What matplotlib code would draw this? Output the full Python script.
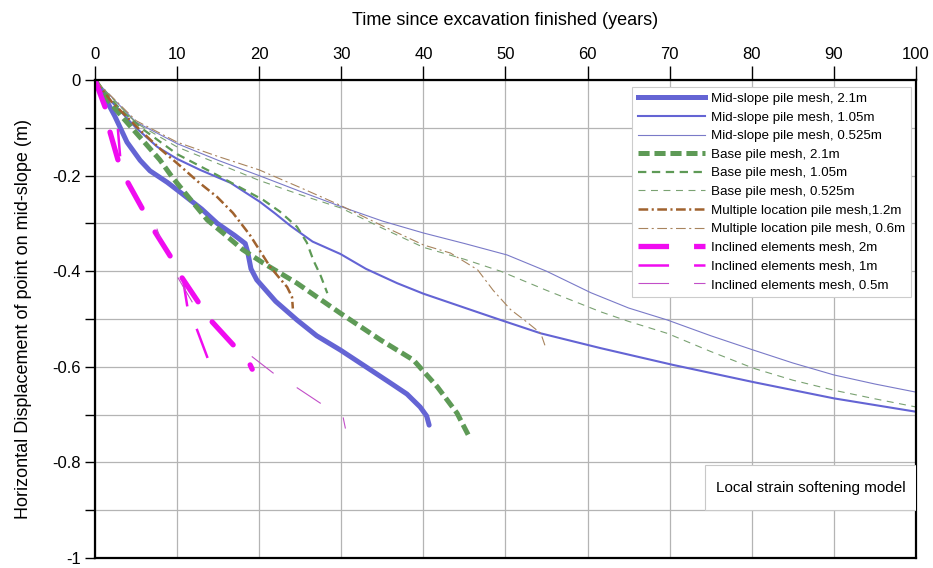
import numpy as np
import matplotlib
matplotlib.use("Agg")
import matplotlib.pyplot as plt
from matplotlib.lines import Line2D
from matplotlib.patches import Rectangle

plt.rcParams['font.family'] = ['Liberation Sans', 'DejaVu Sans']
plt.rcParams['axes.unicode_minus'] = False
plt.rcParams['lines.scale_dashes'] = False
plt.rcParams['lines.solid_joinstyle'] = 'round'
plt.rcParams['lines.dash_joinstyle'] = 'round'

nan = np.nan

# ---- data (time in years, displacement in m) ----
mid21_t = [0, 1, 2.4, 3.9, 5.5, 6.7, 8.8, 10.4, 13, 14.9, 17, 18.3, 18.6, 19, 19.7,
           22, 24.6, 27, 29.9, 33, 36, 38, 39.6, 40.4, 40.7]
mid21_y = [0, -0.03, -0.075, -0.13, -0.168, -0.19, -0.214, -0.235, -0.27, -0.30, -0.325,
           -0.342, -0.36, -0.395, -0.418, -0.463, -0.502, -0.535, -0.565, -0.60, -0.634,
           -0.657, -0.684, -0.703, -0.722]

mid105_t = [0, 2, 5, 7.6, 10, 12.8, 16.5, 20.1, 22, 23.8, 26.5, 29.9, 33, 36.8, 40, 47,
            49.4, 54.3, 61.6, 70.4, 80.2, 90, 100]
mid105_y = [0, -0.045, -0.1, -0.14, -0.165, -0.188, -0.215, -0.255, -0.28, -0.305, -0.338,
            -0.364, -0.395, -0.425, -0.447, -0.488, -0.502, -0.53, -0.561, -0.596, -0.632,
            -0.666, -0.694]

mid0525_t = [0, 5, 10, 15, 20, 25, 30, 35, 40, 45, 50.2, 55, 60.4, 65, 69.7, 75, 80.2,
             85, 90, 95, 100]
mid0525_y = [0, -0.088, -0.133, -0.168, -0.2, -0.233, -0.265, -0.295, -0.32, -0.342,
             -0.366, -0.4, -0.445, -0.477, -0.502, -0.535, -0.565, -0.592, -0.617,
             -0.636, -0.653]

base21_t = [0, 1.5, 3.3, 5.5, 7.9, 9.4, 11.2, 13.7, 15.6, 18, 20.5, 24.6, 29.9, 34.8,
            38.8, 41.7, 44.1, 45.6]
base21_y = [0, -0.04, -0.077, -0.12, -0.167, -0.203, -0.241, -0.293, -0.32, -0.355,
            -0.383, -0.425, -0.488, -0.544, -0.586, -0.642, -0.697, -0.747]

base105_t = [0, 3, 6, 10, 15, 20.5, 22.5, 24.6, 25.8, 26.6, 27.5, 28.3]
base105_y = [0, -0.06, -0.105, -0.155, -0.2, -0.251, -0.275, -0.307, -0.34, -0.377,
             -0.41, -0.446]

base0525_t = [0, 5, 10, 15, 20, 25, 30, 35, 40, 45, 49.4, 55, 61.6, 65, 69.7, 75, 80.2,
              85, 90, 95, 100]
base0525_y = [0, -0.09, -0.14, -0.175, -0.21, -0.24, -0.268, -0.31, -0.35, -0.375,
              -0.40, -0.44, -0.485, -0.505, -0.53, -0.568, -0.603, -0.628, -0.649,
              -0.667, -0.684]

multi12_t = [0, 2, 5.5, 8, 10.4, 12.5, 14.9, 16.8, 18.9, 21.3, 22.5, 23.4, 24, 24.1]
multi12_y = [0, -0.045, -0.105, -0.145, -0.18, -0.212, -0.245, -0.278, -0.325, -0.39,
             -0.415, -0.433, -0.454, -0.478]

multi06_t = [0, 5, 10, 15, 20, 25, 30, 35, 40, 43.3, 46.6, 48.5, 50.6, 52.5, 54.3, 54.8]
multi06_y = [0, -0.085, -0.13, -0.16, -0.188, -0.225, -0.263, -0.305, -0.345, -0.362,
             -0.397, -0.44, -0.48, -0.505, -0.53, -0.555]

# inclined element results only survive as broken pieces (nan = gap)
incl2_t = [0, 1.22, nan, 1.83, 2.8, nan, 4.02, 5.73, nan, 7.32, 9.15, nan, 10.61, 12.56,
           nan, 14.27, 16.83, nan, 18.9, 19.15]
incl2_y = [0, -0.056, nan, -0.109, -0.167, nan, -0.215, -0.268, nan, -0.318, -0.368, nan,
           -0.414, -0.464, nan, -0.506, -0.554, nan, -0.596, -0.605]

incl1_t = [2.8, 3.05, nan, 10.73, 11.22, nan, 12.44, 13.66]
incl1_y = [-0.105, -0.157, nan, -0.418, -0.471, nan, -0.523, -0.579]

incl05_t = [7.56, 7.93, nan, 10.12, 11.83, nan, 19.15, 21.7, nan, 24.63, 27.44, nan,
            30.24, 30.49]
incl05_y = [-0.312, -0.33, nan, -0.414, -0.464, nan, -0.579, -0.613, nan, -0.644, -0.676,
            nan, -0.707, -0.728]

x_ticks = [0, 10, 20, 30, 40, 50, 60, 70, 80, 90, 100]
y_ticks = [0, -0.2, -0.4, -0.6, -0.8, -1]
y_tick_labels = ['0', '-0.2', '-0.4', '-0.6', '-0.8', '-1']

# ---- styles ----
blue = '#6464d4'
green = '#5e9a56'
brown = '#a0622e'
magenta = '#f00cf0'
purple = '#c24ec8'

fig = plt.figure(figsize=(9.33, 5.68), dpi=100)
ax = fig.add_axes([0.1018, 0.0176, 0.8800, 0.8415])

ax.plot(mid21_t, mid21_y, color=blue, lw=3.6, solid_capstyle='round')
ax.plot(mid105_t, mid105_y, color=blue, lw=1.5)
ax.plot(mid0525_t, mid0525_y, color='#7a7ac8', lw=0.8)
ax.plot(base21_t, base21_y, color=green, lw=3.6, dashes=(8, 3.5))
ax.plot(base105_t, base105_y, color=green, lw=1.6, dashes=(6, 4))
ax.plot(base0525_t, base0525_y, color='#7aa272', lw=0.8, dashes=(5, 4))
ax.plot(multi12_t, multi12_y, color=brown, lw=1.8, dashes=(7, 2.5, 1.5, 2.5))
ax.plot(multi06_t, multi06_y, color='#a8845e', lw=0.8, dashes=(7, 2.5, 1.5, 2.5))
ax.plot(incl2_t, incl2_y, color=magenta, lw=3.8, solid_capstyle='round')
ax.plot(incl1_t, incl1_y, color=magenta, lw=1.8)
ax.plot(incl05_t, incl05_y, color=purple, lw=0.8)

handles = [
    Line2D([], [], color=blue, lw=3.6),
    Line2D([], [], color=blue, lw=1.5),
    Line2D([], [], color='#7a7ac8', lw=0.8),
    Line2D([], [], color=green, lw=3.6, dashes=(8, 3.5)),
    Line2D([], [], color=green, lw=1.6, dashes=(6, 4)),
    Line2D([], [], color='#7aa272', lw=0.8, dashes=(5, 4)),
    Line2D([], [], color=brown, lw=1.8, dashes=(7, 2.5, 1.5, 2.5)),
    Line2D([], [], color='#a8845e', lw=0.8, dashes=(7, 2.5, 1.5, 2.5)),
    Line2D([], [], color=magenta, lw=3.8, dashes=(22, 18)),
    Line2D([], [], color=magenta, lw=1.8, dashes=(22, 18)),
    Line2D([], [], color=purple, lw=0.8, dashes=(22, 18)),
]
labels = [
    'Mid-slope pile mesh, 2.1m',
    'Mid-slope pile mesh, 1.05m',
    'Mid-slope pile mesh, 0.525m',
    'Base pile mesh, 2.1m',
    'Base pile mesh, 1.05m',
    'Base pile mesh, 0.525m',
    'Multiple location pile mesh,1.2m',
    'Multiple location pile mesh, 0.6m',
    'Inclined elements mesh, 2m',
    'Inclined elements mesh, 1m',
    'Inclined elements mesh, 0.5m',
]
leg = ax.legend(handles, labels, loc='upper right', bbox_to_anchor=(0.994, 0.986),
                borderaxespad=0, fontsize=9.6, handlelength=5.0, handletextpad=0.45,
                labelspacing=0.47, fancybox=False, framealpha=1, borderpad=0.45)
leg.get_frame().set_edgecolor('#cccccc')
leg.get_frame().set_linewidth(0.8)

# note box
ax.add_patch(Rectangle((0.743, 0.100), 0.257, 0.094, transform=ax.transAxes,
                       facecolor='white', edgecolor='#c8c8c8', lw=0.8, zorder=4))
ax.text(0.872, 0.147, 'Local strain softening model', transform=ax.transAxes,
        ha='center', va='center', fontsize=11, zorder=5)

# axes
ax.set_xlim(0, 100)
ax.set_ylim(-1, 0)
ax.xaxis.tick_top()
ax.xaxis.set_label_position('top')
ax.set_xticks(x_ticks)
ax.set_yticks(y_ticks)
ax.set_yticklabels(y_tick_labels)
ax.set_yticks(np.arange(-0.9, 0, 0.2), minor=True)
ax.tick_params(axis='x', which='major', length=10, width=1, labelsize=12, pad=3)
ax.tick_params(axis='y', which='both', length=7, width=1, labelsize=12, pad=3)
ax.grid(True, which='both', color='#b4b4b4', lw=0.9)
ax.set_axisbelow(True)
for s in ax.spines.values():
    s.set_linewidth(1.6)
    s.set_color('black')

ax.set_xlabel('Time since excavation finished (years)', fontsize=13, labelpad=16)
ax.set_ylabel('Horizontal Displacement of point on mid-slope (m)', fontsize=13,
              labelpad=15)

fig.savefig('out.png', dpi=100)
